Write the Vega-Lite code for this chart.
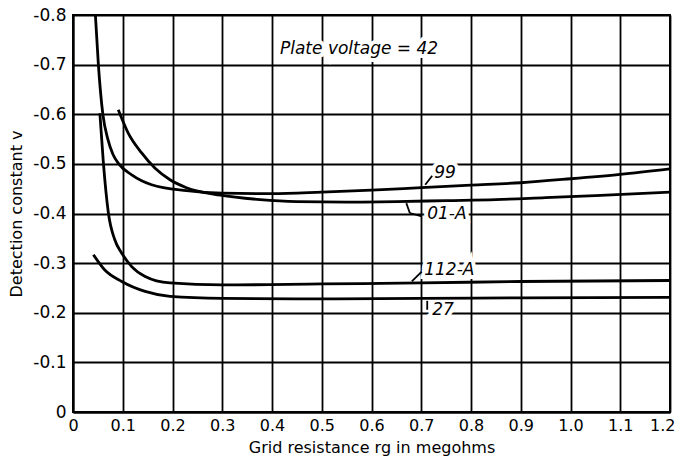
{
  "$schema": "https://vega.github.io/schema/vega-lite/v6.json",
  "width": 597,
  "height": 397,
  "autosize": {"type": "none"},
  "padding": {"left": 73, "top": 15, "right": 9, "bottom": 49},
  "background": "white",
  "config": {
    "view": {"stroke": "black", "strokeWidth": 2},
    "font": "DejaVu Sans"
  },
  "datasets": {
    "curves": [
      {"tube": "99", "rg": 0.045, "v": -0.8},
      {"tube": "99", "rg": 0.051, "v": -0.7},
      {"tube": "99", "rg": 0.06, "v": -0.6},
      {"tube": "99", "rg": 0.07, "v": -0.55},
      {"tube": "99", "rg": 0.08, "v": -0.52},
      {"tube": "99", "rg": 0.092, "v": -0.5},
      {"tube": "99", "rg": 0.118, "v": -0.478},
      {"tube": "99", "rg": 0.158, "v": -0.458},
      {"tube": "99", "rg": 0.228, "v": -0.446},
      {"tube": "99", "rg": 0.3, "v": -0.441},
      {"tube": "99", "rg": 0.4, "v": -0.44},
      {"tube": "99", "rg": 0.5, "v": -0.443},
      {"tube": "99", "rg": 0.6, "v": -0.447},
      {"tube": "99", "rg": 0.7, "v": -0.452},
      {"tube": "99", "rg": 0.8, "v": -0.457},
      {"tube": "99", "rg": 0.9, "v": -0.462},
      {"tube": "99", "rg": 1.0, "v": -0.47},
      {"tube": "99", "rg": 1.1, "v": -0.479},
      {"tube": "99", "rg": 1.2, "v": -0.49},
      {"tube": "01-A", "rg": 0.091, "v": -0.609},
      {"tube": "01-A", "rg": 0.111, "v": -0.562},
      {"tube": "01-A", "rg": 0.138, "v": -0.522},
      {"tube": "01-A", "rg": 0.165, "v": -0.491},
      {"tube": "01-A", "rg": 0.195, "v": -0.468},
      {"tube": "01-A", "rg": 0.228, "v": -0.452},
      {"tube": "01-A", "rg": 0.296, "v": -0.437},
      {"tube": "01-A", "rg": 0.376, "v": -0.428},
      {"tube": "01-A", "rg": 0.45, "v": -0.424},
      {"tube": "01-A", "rg": 0.55, "v": -0.423},
      {"tube": "01-A", "rg": 0.65, "v": -0.424},
      {"tube": "01-A", "rg": 0.75, "v": -0.426},
      {"tube": "01-A", "rg": 0.85, "v": -0.428},
      {"tube": "01-A", "rg": 0.95, "v": -0.432},
      {"tube": "01-A", "rg": 1.05, "v": -0.436},
      {"tube": "01-A", "rg": 1.2, "v": -0.443},
      {"tube": "112-A", "rg": 0.054, "v": -0.602},
      {"tube": "112-A", "rg": 0.061, "v": -0.503},
      {"tube": "112-A", "rg": 0.071, "v": -0.402},
      {"tube": "112-A", "rg": 0.084, "v": -0.347},
      {"tube": "112-A", "rg": 0.098, "v": -0.32},
      {"tube": "112-A", "rg": 0.118, "v": -0.293},
      {"tube": "112-A", "rg": 0.145, "v": -0.273},
      {"tube": "112-A", "rg": 0.195, "v": -0.26},
      {"tube": "112-A", "rg": 0.3, "v": -0.256},
      {"tube": "112-A", "rg": 0.5, "v": -0.258},
      {"tube": "112-A", "rg": 0.7, "v": -0.26},
      {"tube": "112-A", "rg": 0.9, "v": -0.263},
      {"tube": "112-A", "rg": 1.2, "v": -0.265},
      {"tube": "27", "rg": 0.041, "v": -0.317},
      {"tube": "27", "rg": 0.064, "v": -0.286},
      {"tube": "27", "rg": 0.098, "v": -0.263},
      {"tube": "27", "rg": 0.145, "v": -0.243},
      {"tube": "27", "rg": 0.195, "v": -0.233},
      {"tube": "27", "rg": 0.3, "v": -0.229},
      {"tube": "27", "rg": 0.5, "v": -0.228},
      {"tube": "27", "rg": 0.7, "v": -0.229},
      {"tube": "27", "rg": 0.9, "v": -0.23},
      {"tube": "27", "rg": 1.2, "v": -0.231}
    ],
    "labels": [
      {"label": "Plate voltage = 42", "rg": 0.416, "v": -0.732},
      {"label": "99", "rg": 0.726, "v": -0.481},
      {"label": "01-A", "rg": 0.712, "v": -0.399},
      {"label": "112-A", "rg": 0.706, "v": -0.286},
      {"label": "27", "rg": 0.722, "v": -0.206}
    ],
    "pointers": [
      {"rg": 0.722, "v": -0.476, "rg2": 0.708, "v2": -0.458},
      {"rg": 0.67, "v": -0.421, "rg2": 0.677, "v2": -0.401},
      {"rg": 0.677, "v": -0.401, "rg2": 0.701, "v2": -0.394},
      {"rg": 0.701, "v": -0.283, "rg2": 0.681, "v2": -0.263},
      {"rg": 0.712, "v": -0.206, "rg2": 0.712, "v2": -0.224}
    ]
  },
  "encoding": {
    "x": {
      "field": "rg", "type": "quantitative",
      "scale": {"domain": [0, 1.2], "nice": false, "zero": false},
      "axis": {
        "values": [0, 0.1, 0.2, 0.3, 0.4, 0.5, 0.6, 0.7, 0.8, 0.9, 1.0, 1.1, 1.2],
        "labelExpr": "datum.value == 0 ? '0' : format(datum.value, '.1f')",
        "title": "Grid resistance rg in megohms",
        "grid": true, "gridColor": "black", "gridWidth": 1.8, "gridOpacity": 1,
        "ticks": false, "domainColor": "black", "domainWidth": 2,
        "labelFontSize": 16, "labelColor": "black", "labelPadding": 5,
        "labelFlush": true, "labelFlushOffset": 5,
        "titleFontSize": 16, "titleFontWeight": "normal", "titleColor": "black", "titlePadding": 6
      }
    },
    "y": {
      "field": "v", "type": "quantitative",
      "scale": {"domain": [-0.8, 0], "reverse": true, "nice": false, "zero": false},
      "axis": {
        "values": [0, -0.1, -0.2, -0.3, -0.4, -0.5, -0.6, -0.7, -0.8],
        "labelExpr": "datum.value == 0 ? '0' : '-' + format(-datum.value, '.1f')",
        "title": "Detection constant v",
        "grid": true, "gridColor": "black", "gridWidth": 1.8, "gridOpacity": 1,
        "ticks": false, "domainColor": "black", "domainWidth": 2,
        "labelFontSize": 17, "labelColor": "black", "labelPadding": 7,
        "labelFlush": false,
        "titleFontSize": 16, "titleFontWeight": "normal", "titleColor": "black", "titlePadding": 8
      }
    }
  },
  "layer": [
    {
      "data": {"name": "labels"},
      "mark": {"type": "text", "align": "left", "baseline": "middle", "fontSize": 17, "fontStyle": "italic", "stroke": "white", "strokeWidth": 8, "fill": "white"},
      "encoding": {"text": {"field": "label"}}
    },
    {
      "data": {"name": "curves"},
      "mark": {"type": "line", "color": "black", "strokeWidth": 2.8, "interpolate": "monotone", "clip": true},
      "encoding": {"detail": {"field": "tube"}}
    },
    {
      "data": {"name": "labels"},
      "mark": {"type": "text", "align": "left", "baseline": "middle", "fontSize": 17, "fontStyle": "italic", "color": "black"},
      "encoding": {"text": {"field": "label"}}
    },
    {
      "data": {"name": "pointers"},
      "mark": {"type": "rule", "color": "black", "strokeWidth": 1.8},
      "encoding": {
        "x2": {"field": "rg2"},
        "y2": {"field": "v2"}
      }
    }
  ]
}
